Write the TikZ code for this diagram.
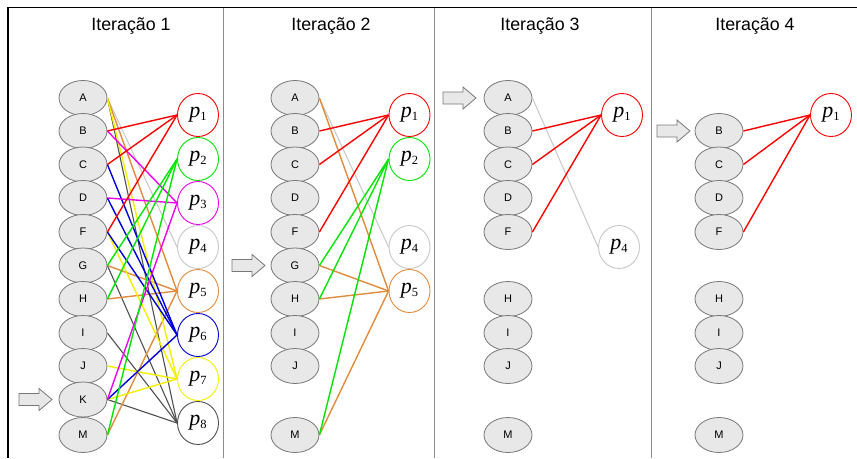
\documentclass[tikz,border=0pt]{standalone}
\usepackage{fontspec}
\setmainfont{Liberation Serif}
\setsansfont{Liberation Sans}
\usetikzlibrary{shapes.geometric}
\definecolor{cred}{RGB}{255,0,0}
\definecolor{cgreen}{RGB}{0,230,0}
\definecolor{cmag}{RGB}{240,0,240}
\definecolor{cblue}{RGB}{0,0,220}
\definecolor{cyel}{RGB}{245,240,0}
\definecolor{corange}{RGB}{225,140,60}
\definecolor{clgray}{RGB}{200,200,200}
\definecolor{cdgray}{RGB}{80,80,80}
\definecolor{efill}{RGB}{232,232,232}
\definecolor{edraw}{RGB}{120,120,120}
\definecolor{sepgray}{RGB}{140,140,140}
\newcommand\plab[1]{{\fontsize{22}{22}\selectfont\itshape p}\raisebox{-3pt}{\fontsize{12.5}{12.5}\selectfont #1}}
\begin{document}
\begin{tikzpicture}[x=1pt,y=-1pt,
  elem/.style={ellipse, draw=edraw, fill=efill, line width=0.8pt, minimum width=48pt, minimum height=35pt, inner sep=0pt, font=\sffamily\fontsize{11}{11}\selectfont},
  pnode/.style={ellipse, draw=#1, fill=white, line width=0.9pt, minimum width=41pt, minimum height=43pt, inner sep=0pt},
  lnk/.style={draw=#1, line width=1.4pt},
  ttl/.style={font=\sffamily\fontsize{17.8}{18}\selectfont, anchor=base},
  blockarrow/.style={draw=edraw, fill=efill, line width=0.8pt},
  barrow/.pic={\draw[blockarrow] (0,-6) -- (20,-6) -- (20,-11) -- (33,0) -- (20,11) -- (20,6) -- (0,6) -- cycle;}]
\useasboundingbox (0,0) rectangle (857,458);
\fill[white] (0,0) rectangle (857,458);
% frame
\draw[sepgray, line width=0.9pt] (223,7.5) -- (223,458);
\draw[sepgray, line width=0.9pt] (434,7.5) -- (434,458);
\draw[sepgray, line width=0.9pt] (651,7.5) -- (651,458);
\draw[line width=1.8pt] (8,458) -- (8,7.5) -- (857,7.5);
% titles
\node[ttl] (t1) at (131,30) {Iteração 1};
\node[ttl] (t2) at (331,30) {Iteração 2};
\node[ttl] (t3) at (540,30) {Iteração 3};
\node[ttl] (t4) at (755,30) {Iteração 4};

% ---------- Iteration 1 ----------
\foreach \n/\y in {A/98,B/131,C/164.5,D/198,F/232,G/265.5,H/299,I/333,J/366,K/399.5,M/435}
  \node[elem] (a\n) at (83,\y) {\n};
\node[pnode=cred]    (ap1) at (198,115) {\plab{1}};
\node[pnode=cgreen]  (ap2) at (198,159) {\plab{2}};
\node[pnode=cmag]    (ap3) at (198,203) {\plab{3}};
\node[pnode=clgray]  (ap4) at (198,247) {\plab{4}};
\node[pnode=corange] (ap5) at (198,291) {\plab{5}};
\node[pnode=cblue]   (ap6) at (198,335) {\plab{6}};
\node[pnode=cyel]    (ap7) at (198,379) {\plab{7}};
\node[pnode=cdgray]  (ap8) at (198,423) {\plab{8}};
\foreach \s in {A} \draw[lnk=clgray, line width=1pt] (a\s.east) -- (ap4.west);
\foreach \s in {A,G,I,K} \draw[lnk=cdgray, line width=1.1pt] (a\s.east) -- (ap8.west);
\foreach \s in {A,G,H,M} \draw[lnk=corange] (a\s.east) -- (ap5.west);
\foreach \s in {A,F,J,K} \draw[lnk=cyel] (a\s.east) -- (ap7.west);
\foreach \s in {C,D,F,K} \draw[lnk=cblue] (a\s.east) -- (ap6.west);
\foreach \s in {B,D,K} \draw[lnk=cmag] (a\s.east) -- (ap3.west);
\foreach \s in {G,H,M} \draw[lnk=cgreen] (a\s.east) -- (ap2.west);
\foreach \s in {B,C,F} \draw[lnk=cred] (a\s.east) -- (ap1.west);
\pic at (19,399.5) {barrow};

% ---------- Iteration 2 ----------
\foreach \n/\y in {A/98,B/131,C/164.5,D/198,F/232,G/265.5,H/299,I/333,J/366,M/435}
  \node[elem] (b\n) at (295,\y) {\n};
\node[pnode=cred]    (bp1) at (409.5,115) {\plab{1}};
\node[pnode=cgreen]  (bp2) at (409.5,159) {\plab{2}};
\node[pnode=clgray]  (bp4) at (409.5,247) {\plab{4}};
\node[pnode=corange] (bp5) at (409.5,291) {\plab{5}};
\foreach \s in {A} \draw[lnk=clgray, line width=1pt] (b\s.east) -- (bp4.west);
\foreach \s in {A,G,H,M} \draw[lnk=corange] (b\s.east) -- (bp5.west);
\foreach \s in {G,H,M} \draw[lnk=cgreen] (b\s.east) -- (bp2.west);
\foreach \s in {B,C,F} \draw[lnk=cred] (b\s.east) -- (bp1.west);
\pic at (232,265.5) {barrow};

% ---------- Iteration 3 ----------
\foreach \n/\y in {A/98,B/131,C/164.5,D/198,F/232,H/299,I/333,J/366,M/435}
  \node[elem] (c\n) at (508,\y) {\n};
\node[pnode=cred]    (cp1) at (622,115) {\plab{1}};
\node[pnode=clgray]  (cp4) at (619,247) {\plab{4}};
\draw[lnk=clgray, line width=1pt] (cA.east) -- (cp4.west);
\foreach \s in {B,C,F} \draw[lnk=cred] (c\s.east) -- (cp1.west);
\pic at (443,98) {barrow};

% ---------- Iteration 4 ----------
\foreach \n/\y in {B/131,C/164.5,D/198,F/232,H/299,I/333,J/366,M/435}
  \node[elem] (d\n) at (719,\y) {\n};
\node[pnode=cred]    (dp1) at (831,115) {\plab{1}};
\foreach \s in {B,C,F} \draw[lnk=cred] (d\s.east) -- (dp1.west);
\pic at (657,131) {barrow};
\end{tikzpicture}
\end{document}
